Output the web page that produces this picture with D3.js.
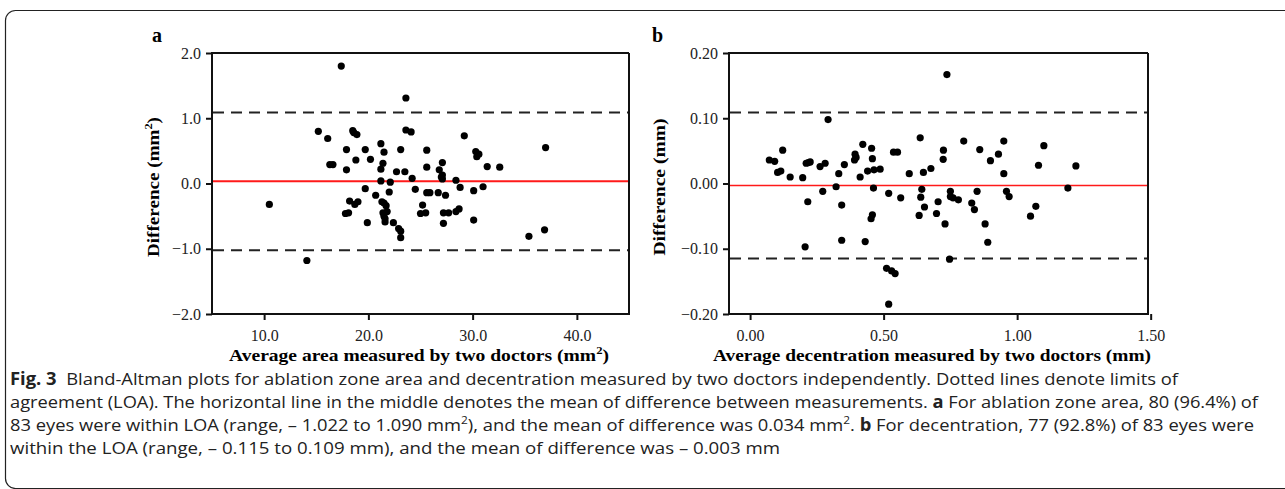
<!DOCTYPE html>
<head>
  <meta charset="utf-8">
  <title>Bland-Altman plots</title>
  <script src="https://d3js.org/d3.v7.min.js"></script>
  <style>
    body { margin: 0; background: #fff; }
    svg { display: block; }
  </style>
</head>
<body>
  <div id="chart"></div>
  <script type="text/javascript">

    // panel a: average area (mm2) vs difference (mm2)
    var areaAvg = [10.5, 14.1, 15.2, 16.1, 16.3, 16.6, 17.4, 17.9, 17.9, 18.5, 18.6, 18.9, 18.8, 19.7, 20.2,
      21.2, 21.5, 21.4, 21.2, 21.2, 22.1, 22.7, 23.1, 23.5, 23.6, 23.6, 24.1, 24.2, 24.5, 25.6,
      25.6, 26.8, 27.1, 27.1, 27.1, 28.4, 19.7, 20.7, 22.0, 25.6, 25.9, 26.7, 27.4, 28.8, 18.2,
      19.0, 18.7, 18.1, 17.8, 21.3, 21.7, 21.5, 21.8, 21.5, 21.6, 21.6, 22.4, 19.9, 22.9, 23.1,
      23.1, 25.2, 25.0, 25.5, 27.2, 27.7, 27.2, 28.4, 28.7, 29.2, 30.3, 30.4, 30.6, 31.4, 32.6,
      37.0, 30.1, 31.0, 30.1, 35.4, 36.9, 27.0, 21.4];
    var areaDiff = [-0.32, -1.18, 0.80, 0.69, 0.29, 0.29, 1.80, 0.21, 0.52, 0.81, 0.78, 0.75, 0.36, 0.52, 0.37,
      0.61, 0.48, 0.31, 0.22, 0.04, 0.02, 0.18, 0.52, 0.18, 1.31, 0.82, 0.79, 0.08, -0.09, 0.51,
      0.25, 0.21, 0.32, 0.13, 0.07, 0.05, -0.08, -0.18, -0.13, -0.14, -0.14, -0.14, -0.18, -0.06, -0.27,
      -0.28, -0.32, -0.45, -0.46, -0.28, -0.34, -0.30, -0.43, -0.50, -0.54, -0.59, -0.60, -0.60, -0.69, -0.73,
      -0.83, -0.33, -0.46, -0.45, -0.45, -0.45, -0.61, -0.43, -0.39, 0.73, 0.49, 0.41, 0.45, 0.26, 0.25,
      0.55, -0.11, -0.05, -0.56, -0.81, -0.71, 0.10, -0.45];
    var areaMean = 0.034;
    var areaLoa = [-1.022, 1.090];
    var areaXTicks = [10, 20, 30, 40];
    var areaYTicks = [-2, -1, 0, 1, 2];

    // panel b: average decentration (mm) vs difference (mm)
    var decAvg = [0.072, 0.092, 0.122, 0.103, 0.115, 0.150, 0.197, 0.210, 0.225, 0.218, 0.216, 0.262, 0.281, 0.292, 0.272,
      0.322, 0.332, 0.353, 0.343, 0.393, 0.397, 0.391, 0.412, 0.422, 0.440, 0.455, 0.458, 0.464, 0.487, 0.462,
      0.458, 0.453, 0.519, 0.537, 0.552, 0.564, 0.596, 0.637, 0.649, 0.643, 0.639, 0.653, 0.633, 0.677, 0.724,
      0.723, 0.704, 0.698, 0.730, 0.737, 0.206, 0.343, 0.431, 0.511, 0.530, 0.543, 0.519, 0.747,
      0.75, 0.76, 0.78, 0.75, 0.80, 0.83, 0.84, 0.85, 0.86, 0.88, 0.89, 0.90, 0.93, 0.95, 0.95,
      0.96, 0.97, 1.05, 1.07, 1.08, 1.10, 1.19, 1.22];
    var decDiff = [0.036, 0.034, 0.051, 0.017, 0.019, 0.010, 0.009, 0.031, 0.033, 0.032, -0.028, 0.026, 0.031, 0.098, -0.012,
      -0.005, 0.015, 0.029, -0.033, 0.045, 0.040, 0.036, 0.010, 0.060, 0.019, 0.054, 0.038, 0.021, 0.022, -0.007,
      -0.048, -0.054, -0.015, 0.048, 0.048, -0.022, 0.015, 0.070, 0.017, -0.009, -0.021, -0.036, -0.049, 0.023, 0.051,
      0.037, -0.028, -0.046, -0.062, 0.167, -0.097, -0.087, -0.089, -0.130, -0.134, -0.138, -0.185, -0.116,
      -0.012, -0.022, -0.025, -0.020, 0.065, -0.030, -0.040, -0.012, 0.052, -0.062, -0.090, 0.035, 0.045, 0.065, 0.015,
      -0.012, -0.020, -0.050, -0.035, 0.028, 0.058, -0.007, 0.027];
    var decMean = -0.003;
    var decLoa = [-0.115, 0.109];
    var decXTicks = [0, 0.5, 1.0, 1.5];
    var decYTicks = [-0.2, -0.1, 0, 0.1, 0.2];

    var width = 1285;
    var height = 489;
    var serif = '"Liberation Serif", "Times New Roman", serif';
    var sans = '"Open Sans", "Noto Sans", sans-serif';

    var svg = d3.select('#chart')
      .append('svg')
        .attr('width', width)
        .attr('height', height);

    // outer rounded frame of the figure
    svg.append('rect')
      .attr('x', 5.5)
      .attr('y', 10.5)
      .attr('width', 1300)
      .attr('height', 478)
      .attr('rx', 10)
      .attr('fill', 'none')
      .attr('stroke', '#222')
      .attr('stroke-width', 1.2);

    function drawPanel(opt) {
      var x = d3.scaleLinear().domain(opt.xDomain).range([opt.left, opt.right]);
      var y = d3.scaleLinear().domain(opt.yDomain).range([314, 53]);
      var g = svg.append('g');

      // x axis
      var xAxis = g.append('g')
        .attr('transform', 'translate(0,' + y.range()[0] + ')')
        .call(d3.axisBottom(x).tickValues(opt.xTicks).tickFormat(d3.format(opt.fmt))
          .tickSize(6).tickSizeOuter(0).tickPadding(10));
      // y axis
      var yAxis = g.append('g')
        .attr('transform', 'translate(' + opt.left + ',0)')
        .call(d3.axisLeft(y).tickValues(opt.yTicks).tickFormat(d3.format(opt.fmt))
          .tickSize(6).tickSizeOuter(0).tickPadding(5));

      [xAxis, yAxis].forEach(function (a) {
        a.select('.domain').attr('stroke', '#111').attr('stroke-width', 2);
        a.selectAll('.tick line').attr('stroke', '#111').attr('stroke-width', 2);
        a.selectAll('.tick text')
          .attr('fill', '#222')
          .style('font-family', serif)
          .style('font-size', '16px');
      });
      // axis lines run over the whole frame
      xAxis.select('.domain').attr('d', 'M' + (opt.left - 1) + ',0H' + (opt.right + 1));
      yAxis.select('.domain').attr('d', 'M0,' + (y.range()[0] + 1) + 'V' + (y.range()[1] - 1));

      // top and right frame lines
      g.append('line')
        .attr('x1', opt.left).attr('x2', opt.right)
        .attr('y1', y.range()[1]).attr('y2', y.range()[1])
        .attr('stroke', '#111').attr('stroke-width', 2);
      g.append('line')
        .attr('x1', opt.right).attr('x2', opt.right)
        .attr('y1', y.range()[1]).attr('y2', y.range()[0])
        .attr('stroke', '#111').attr('stroke-width', 2);

      // limits of agreement
      g.selectAll('line.loa')
          .data(opt.loa)
          .enter()
        .append('line')
          .attr('class', 'loa')
          .attr('x1', opt.left + 1).attr('x2', opt.right - 1)
          .attr('y1', function (d) { return y(d); })
          .attr('y2', function (d) { return y(d); })
          .attr('stroke', '#222')
          .attr('stroke-width', 2)
          .attr('stroke-dasharray', '11,7');

      // mean difference
      g.append('line')
        .attr('x1', opt.left + 1).attr('x2', opt.right - 1)
        .attr('y1', y(opt.mean)).attr('y2', y(opt.mean))
        .attr('stroke', '#ff1a1a')
        .attr('stroke-width', opt.meanWidth);

      // points
      g.selectAll('circle')
          .data(opt.xs)
          .enter()
        .append('circle')
          .attr('cx', function (d) { return x(d); })
          .attr('cy', function (d, i) { return y(opt.ys[i]); })
          .attr('r', 3.6)
          .attr('fill', '#000');

      // panel letter
      g.append('text')
        .attr('x', opt.letterX)
        .attr('y', 42)
        .style('font-family', serif)
        .style('font-weight', 'bold')
        .style('font-size', '20px')
        .text(opt.letter);

      // x axis title
      var xt = g.append('text')
        .attr('x', opt.titleX)
        .attr('y', 361)
        .attr('text-anchor', 'middle')
        .attr('textLength', opt.titleLen)
        .attr('lengthAdjust', 'spacingAndGlyphs')
        .style('font-family', serif)
        .style('font-weight', 'bold')
        .style('font-size', '17px')
        .text(opt.xTitle);
      if (opt.sup) {
        xt.append('tspan').text('(mm');
        xt.append('tspan').attr('dy', -7).style('font-size', '11px').text('2');
        xt.append('tspan').attr('dy', 7).text(')');
      }

      // y axis title
      var yt = g.append('text')
        .attr('transform', 'translate(' + opt.yTitleX + ',187) rotate(-90)')
        .attr('text-anchor', 'middle')
        .attr('textLength', opt.yTitleLen)
        .attr('lengthAdjust', 'spacingAndGlyphs')
        .style('font-family', serif)
        .style('font-weight', 'bold')
        .style('font-size', '17px')
        .text(opt.yTitle);
      if (opt.sup) {
        yt.append('tspan').text('(mm');
        yt.append('tspan').attr('dy', -7).style('font-size', '11px').text('2');
        yt.append('tspan').attr('dy', 7).text(')');
      }
    }

    drawPanel({
      xs: areaAvg, ys: areaDiff, mean: areaMean, loa: areaLoa, meanWidth: 2,
      xDomain: [5, 45], yDomain: [-2, 2], left: 212, right: 629,
      xTicks: areaXTicks, yTicks: areaYTicks, fmt: '.1f',
      letter: 'a', letterX: 152,
      xTitle: 'Average area measured by two doctors ', sup: true, titleX: 419, titleLen: 380,
      yTitle: 'Difference ', yTitleX: 159, yTitleLen: 140
    });

    drawPanel({
      xs: decAvg, ys: decDiff, mean: decMean, loa: decLoa, meanWidth: 1.6,
      xDomain: [-0.079, 1.49], yDomain: [-0.2, 0.2], left: 729, right: 1148,
      xTicks: decXTicks, yTicks: decYTicks, fmt: '.2f',
      letter: 'b', letterX: 652,
      xTitle: 'Average decentration measured by two doctors (mm)', sup: false, titleX: 932, titleLen: 438,
      yTitle: 'Difference (mm)', yTitleX: 665, yTitleLen: 137
    });

    // caption, four lines with bold run-ins and superscripts
    var capLines = [
      [['b', 'Fig. 3'], ['r', '  Bland-Altman plots for ablation zone area and decentration measured by two doctors independently. Dotted lines denote limits of']],
      [['r', 'agreement (LOA). The horizontal line in the middle denotes the mean of difference between measurements. '], ['b', 'a'], ['r', ' For ablation zone area, 80 (96.4%) of']],
      [['r', '83 eyes were within LOA (range, \u2013 1.022 to 1.090 mm'], ['s', '2'], ['r', '), and the mean of difference was 0.034 mm'], ['s', '2'], ['r', '. '], ['b', 'b'], ['r', ' For decentration, 77 (92.8%) of 83 eyes were']],
      [['r', 'within the LOA (range, \u2013 0.115 to 0.109 mm), and the mean of difference was \u2013 0.003 mm']]
    ];
    var capWidths = [1168, 1248, 1244, 770];

    var caption = svg.append('g').attr('class', 'caption');
    capLines.forEach(function (line, i) {
      var t = caption.append('text')
        .attr('x', 10)
        .attr('y', 385 + i * 23)
        .attr('xml:space', 'preserve')
        .attr('textLength', capWidths[i])
        .attr('lengthAdjust', 'spacingAndGlyphs')
        .style('font-family', sans)
        .style('font-size', '17px')
        .attr('fill', '#222');
      var lift = 0;
      line.forEach(function (p) {
        var s = t.append('tspan').text(p[1]);
        if (p[0] === 'b') s.style('font-weight', 'bold');
        if (p[0] === 's') {
          s.attr('dy', -7).style('font-size', '11px');
          lift = 7;
        } else if (lift) {
          s.attr('dy', lift);
          lift = 0;
        }
      });
    });
  </script>
</body>
